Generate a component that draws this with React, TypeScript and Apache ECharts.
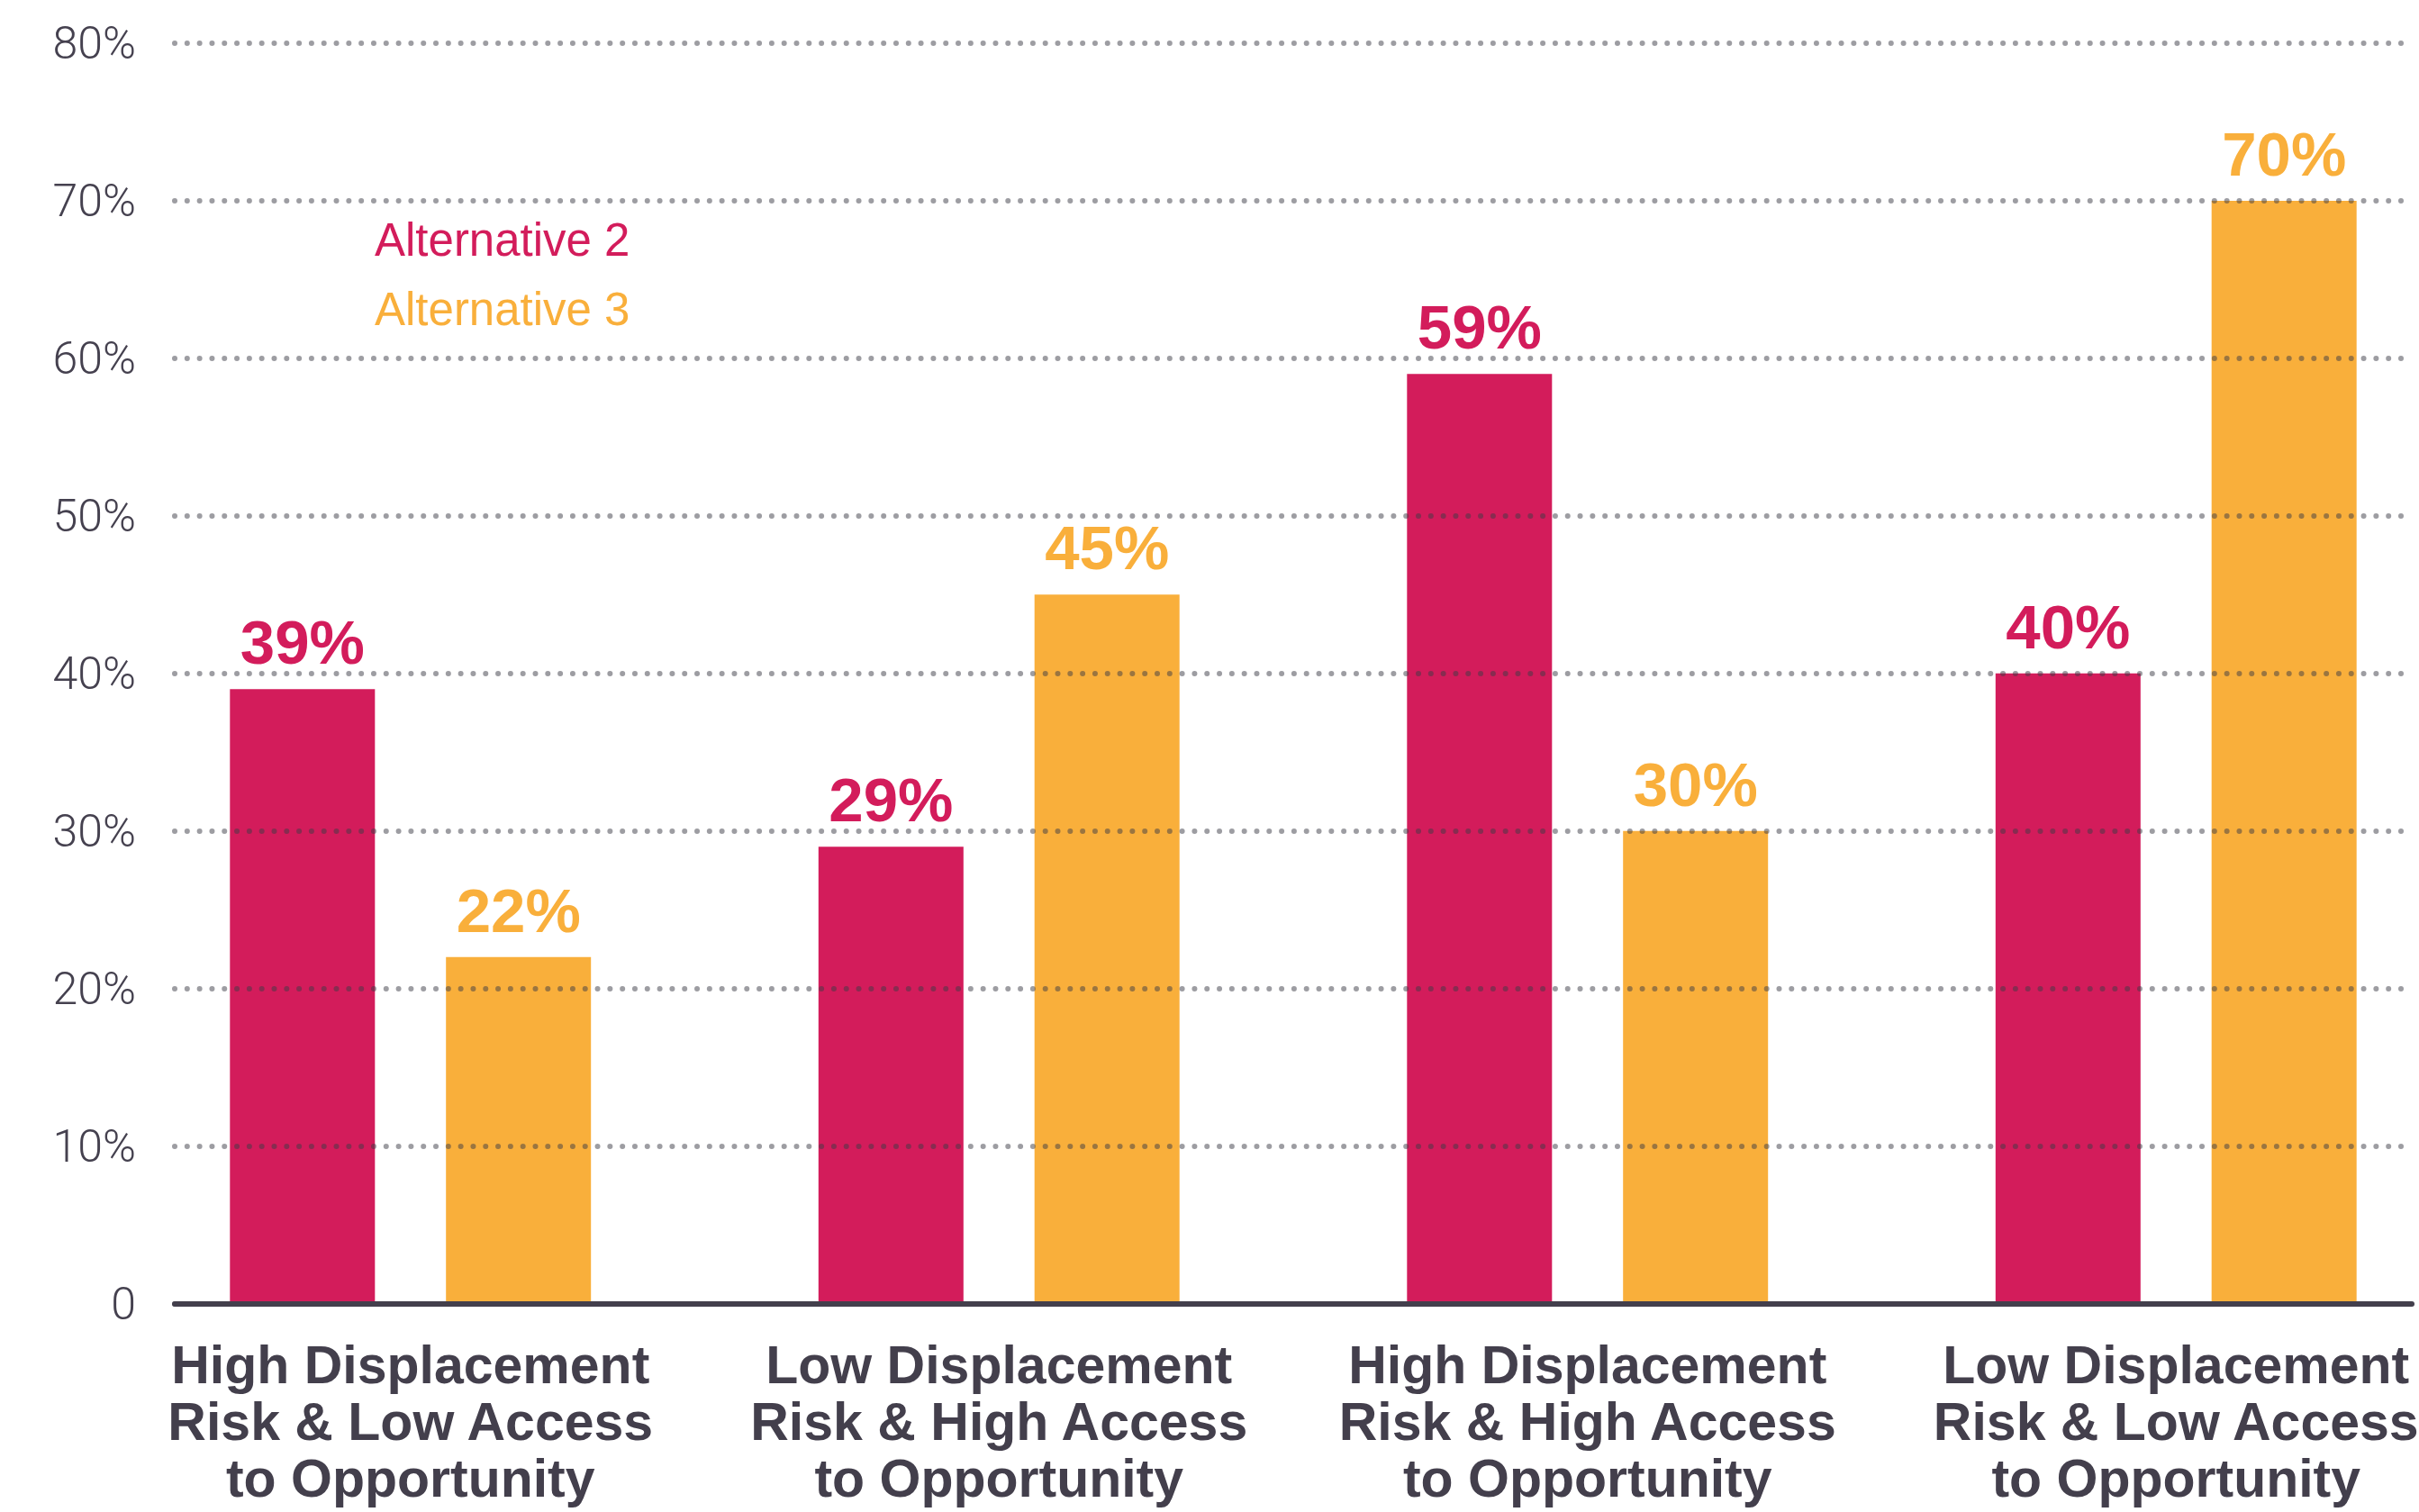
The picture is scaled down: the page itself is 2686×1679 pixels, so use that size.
import React, { useEffect, useRef } from "react";
import * as echarts from "echarts";

const categories = [
  "High Displacement\nRisk & Low Access\nto Opportunity",
  "Low Displacement\nRisk & High Access\nto Opportunity",
  "High Displacement\nRisk & High Access\nto Opportunity",
  "Low Displacement\nRisk & Low Access\nto Opportunity",
];
const alternative2 = [39, 29, 59, 40];
const alternative3 = [22, 45, 30, 70];
const seriesNames = ["Alternative 2", "Alternative 3"];
const yTicks = { min: 0, max: 80, interval: 10 };

const CRIMSON = "#D31C5B";
const ORANGE = "#F9AF3B";
const DARK = "#433F4C";

const PAGE_W = 2686;
const PAGE_H = 1679;
const CHART_W = 2800;

export default function App() {
  const ref = useRef<HTMLDivElement>(null);
  useEffect(() => {
    if (!ref.current) return;
    const chart = echarts.init(ref.current, null, { renderer: "svg" });
    const top = 48;
    const bottom = 231.5;
    const labelStyle = (color: string) => ({
      show: true,
      position: "top",
      distance: 17,
      formatter: "{c}%",
      color,
      fontSize: 69,
      fontWeight: "bold",
      fontFamily: "Liberation Sans, Arial, sans-serif",
    });
    chart.setOption({
      animation: false,
      backgroundColor: "#ffffff",
      grid: [
        { left: 129, right: CHART_W - 2743, top, bottom, containLabel: false },
        { left: 194, right: CHART_W - 2678, top, bottom, containLabel: false },
      ],
      legend: {
        orient: "vertical",
        left: 406,
        top: 236,
        itemGap: 26,
        itemWidth: 0,
        itemHeight: 10,
        selectedMode: false,
        data: [
          { name: seriesNames[0], icon: "none", textStyle: { color: CRIMSON } },
          { name: seriesNames[1], icon: "none", textStyle: { color: ORANGE } },
        ],
        textStyle: {
          fontSize: 51,
          lineHeight: 49,
          fontFamily: "Liberation Sans, Arial, sans-serif",
        },
      },
      xAxis: [
        {
          type: "category",
          gridIndex: 0,
          data: categories,
          axisLine: { show: false },
          axisTick: { show: false },
          axisLabel: {
            margin: 37,
            color: DARK,
            fontSize: 59,
            lineHeight: 63,
            fontWeight: "bold",
            fontFamily: "Liberation Sans, Arial, sans-serif",
            interval: 0,
            align: "center",
          },
        },
        {
          type: "value",
          gridIndex: 1,
          min: 0,
          max: 1,
          axisLine: {
            show: true,
            lineStyle: { color: DARK, width: 6, cap: "round" },
          },
          axisTick: { show: false },
          axisLabel: { show: false },
          splitLine: { show: false },
          z: 5,
        },
      ],
      yAxis: [
        {
          type: "value",
          gridIndex: 1,
          min: yTicks.min,
          max: yTicks.max,
          interval: yTicks.interval,
          z: 3,
          axisLine: { show: false },
          axisTick: { show: false },
          axisLabel: {
            margin: 43,
            color: "#45414F",
            fontSize: 50,
            fontWeight: 300,
            fontFamily: "Roboto, Liberation Sans, Arial, sans-serif",
            formatter: (v: number) => (v === 0 ? "0" : `${v}%`),
          },
          splitLine: {
            show: true,
            lineStyle: {
              color: "rgba(60,60,70,0.5)",
              width: 6,
              type: [0.01, 13.8],
              cap: "round",
            },
          },
        },
        {
          type: "value",
          gridIndex: 0,
          min: yTicks.min,
          max: yTicks.max,
          interval: yTicks.interval,
          show: false,
          splitLine: { show: false },
        },
      ],
      series: [
        {
          name: seriesNames[0],
          type: "bar",
          xAxisIndex: 0,
          yAxisIndex: 1,
          data: alternative2,
          barWidth: 161,
          barGap: "49%",
          itemStyle: { color: CRIMSON },
          label: labelStyle(CRIMSON),
        },
        {
          name: seriesNames[1],
          type: "bar",
          xAxisIndex: 0,
          yAxisIndex: 1,
          data: alternative3,
          barWidth: 161,
          barGap: "49%",
          itemStyle: { color: ORANGE },
          label: labelStyle(ORANGE),
        },
      ],
    });
    return () => chart.dispose();
  }, []);
  return (
    <div
      style={{
        position: "absolute",
        left: 0,
        top: 0,
        width: PAGE_W,
        height: PAGE_H,
        overflow: "hidden",
        background: "#ffffff",
      }}
    >
      <div ref={ref} style={{ width: CHART_W, height: PAGE_H }} />
    </div>
  );
}
